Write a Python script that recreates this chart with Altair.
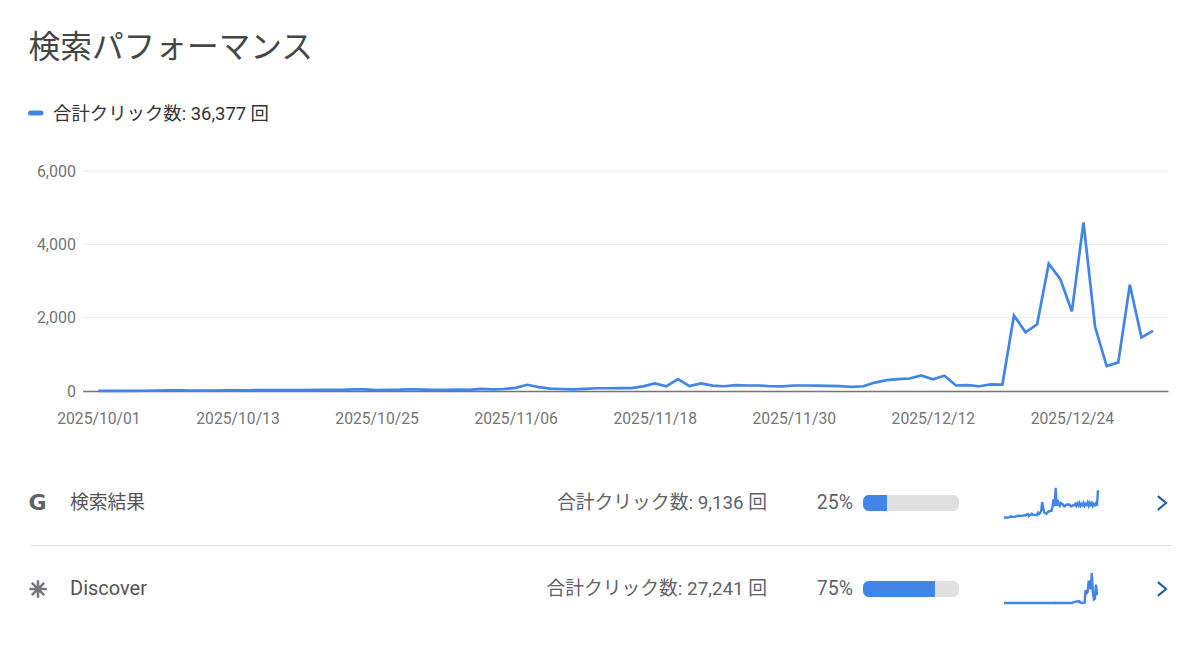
import altair as alt
import pandas as pd

FONT = "Roboto, 'Noto Sans CJK JP', sans-serif"
BLUE = "#4285e8"

title_text = "検索パフォーマンス"
legend_text = "合計クリック数: 36,377 回"
grid_values = [0, 2000, 4000, 6000]
tick_dates = ["2025-10-01T00:00:00", "2025-10-13T00:00:00", "2025-10-25T00:00:00", "2025-11-06T00:00:00",
              "2025-11-18T00:00:00", "2025-11-30T00:00:00", "2025-12-12T00:00:00", "2025-12-24T00:00:00"]

total = [5, 4, 5, 6, 7, 10, 18, 16, 14, 12,
         12, 16, 18, 20, 25, 26, 24, 22, 26, 30,
         30, 28, 42, 44, 22, 34, 36, 48, 38, 32,
         34, 36, 32, 60, 45, 55, 85, 170, 105, 65,
         55, 45, 60, 75, 75, 80, 80, 125, 205, 125,
         325, 135, 205, 145, 130, 160, 150, 150, 130, 125,
         150, 150, 145, 140, 135, 115, 130, 230, 295, 325,
         340, 425, 320, 415, 150, 160, 130, 180, 175, 2060,
         1600, 1820, 3470, 3050, 2170, 4600, 1750, 680, 780, 2900,
         1460, 1640]

search = [5, 4, 5, 6, 7, 10, 16, 14, 13, 12,
          12, 15, 17, 19, 24, 25, 23, 21, 25, 28,
          29, 27, 40, 42, 22, 33, 34, 46, 36, 31,
          33, 35, 31, 56, 43, 52, 80, 170, 100, 60,
          52, 45, 56, 70, 72, 76, 76, 125, 200, 125,
          320, 130, 190, 145, 130, 160, 150, 145, 125, 125,
          140, 145, 140, 145, 135, 125, 130, 135, 135, 150,
          130, 155, 135, 160, 130, 150, 135, 160, 130, 150,
          140, 165, 130, 160, 140, 160, 130, 150, 135, 155,
          130, 295]

discover = [0, 0, 0, 0, 0, 0, 2, 2, 1, 0,
            0, 1, 1, 1, 1, 1, 1, 1, 1, 2,
            1, 1, 2, 2, 0, 1, 2, 2, 2, 1,
            1, 1, 1, 4, 2, 3, 10, 10, 10, 5,
            3, 0, 4, 5, 3, 4, 4, 10, 15, 5,
            30, 10, 20, 5, 5, 10, 10, 5, 10, 5,
            10, 10, 10, 5, 10, 5, 5, 85, 165, 170,
            220, 270, 200, 255, 45, 15, 10, 20, 60, 1900,
            1460, 1640, 3300, 2880, 2030, 4435, 1630, 525, 650, 2740,
            1335, 1345]

rows = ["検索結果", "Discover"]
row_clicks = ["合計クリック数: 9,136 回", "合計クリック数: 27,241 回"]
row_share = [25, 75]
row_pct = ["25%", "75%"]
row_icon = ["G", ""]

dates = pd.date_range("2025-10-01", periods=len(total), freq="D").strftime("%Y-%m-%dT%H:%M:%S")
df = pd.DataFrame({"date": dates, "total": total, "search": search, "discover": discover})
rows_df = pd.DataFrame({"row": rows, "clicks": row_clicks, "share": row_share, "pct": row_pct,
                        "full": [100, 100], "zero": [0, 0], "icon": row_icon})

X_DOMAIN = ["2025-09-29T15:00:00", "2026-01-01T07:00:00"]
X_RANGE = [74.5, 1160]
Y_RANGE = [383, 163]
ROW_Y = alt.Scale(domain=rows, range=[452, 624], paddingInner=0, paddingOuter=0)
row_y = alt.Y("row:N", scale=ROW_Y, axis=None)

grid = alt.Chart(pd.DataFrame({"v": grid_values[1:], "a": X_DOMAIN[0], "b": X_DOMAIN[1]})).mark_rule(
    color="#ececec", strokeWidth=1
).encode(
    x=alt.X("a:T", scale=alt.Scale(domain=X_DOMAIN, range=X_RANGE), axis=None),
    x2="b:T",
    y=alt.Y("v:Q", scale=alt.Scale(domain=[0, 6000], range=Y_RANGE), axis=None),
)

main = alt.Chart(df).mark_line(color=BLUE, strokeWidth=2.7).encode(
    x=alt.X("date:T", scale=alt.Scale(domain=X_DOMAIN, range=X_RANGE),
            axis=alt.Axis(values=tick_dates, format="%Y/%m/%d", title=None, grid=False, ticks=False,
                          offset=-251, labelPadding=20, labelFontSize=15.7, labelFont=FONT,
                          labelColor="#757575", labelOverlap=False, labelFlush=False,
                          domainColor="#757575", domainWidth=1.5)),
    y=alt.Y("total:Q", scale=alt.Scale(domain=[0, 6000], range=Y_RANGE),
            axis=alt.Axis(values=grid_values, format=",d", title=None, grid=False, ticks=False, domain=False,
                          offset=-67.5, labelPadding=0, labelFontSize=16, labelFont=FONT,
                          labelColor="#757575")),
)

bar_bg = alt.Chart(rows_df).mark_bar(color="#e0e0e0", size=16, cornerRadius=6).encode(
    x=alt.X("zero:Q", scale=alt.Scale(domain=[0, 100], range=[855, 951]), axis=None),
    x2="full:Q",
    y=row_y,
)
bar_fg = alt.Chart(rows_df).mark_bar(color=BLUE, size=16, cornerRadiusTopLeft=6, cornerRadiusBottomLeft=6).encode(
    x=alt.X("zero:Q", scale=alt.Scale(domain=[0, 100], range=[855, 951]), axis=None),
    x2="share:Q",
    y=row_y,
)

spark_x = alt.Scale(domain=["2025-10-01T00:00:00", "2025-12-31T00:00:00"], range=[996, 1090])
spark1 = alt.Chart(df).mark_line(color=BLUE, strokeWidth=2.4).encode(
    x=alt.X("date:T", scale=spark_x, axis=None),
    y=alt.Y("search:Q", scale=alt.Scale(domain=[0, 330], range=[510, 479]), axis=None),
)
spark2 = alt.Chart(df).mark_line(color=BLUE, strokeWidth=2.4).encode(
    x=alt.X("date:T", scale=spark_x, axis=None),
    y=alt.Y("discover:Q", scale=alt.Scale(domain=[0, 4450], range=[595, 565]), axis=None),
)


def label(text, x, y, size, color, align="left"):
    return alt.Chart(pd.DataFrame({"t": [text]})).mark_text(
        font=FONT, fontSize=size, color=color, align=align, baseline="middle"
    ).encode(x=alt.value(x), y=alt.value(y), text="t:N")


def row_text(field, x, size, color, align="left", font=FONT, weight="normal", dy=0.3, only=None):
    base = alt.Chart(rows_df)
    if only is not None:
        base = base.transform_filter(alt.datum.row == only)
    return base.mark_text(
        font=font, fontSize=size, color=color, align=align, baseline="middle", fontWeight=weight, dy=dy
    ).encode(x=alt.value(x), y=row_y, text=f"{field}:N")


title = label(title_text, 20.5, 39.5, 31.7, "#444746")
legend_dash = alt.Chart(pd.DataFrame({"a": [0]})).mark_rule(
    color=BLUE, strokeWidth=5, strokeCap="round"
).encode(x=alt.value(22.5), x2=alt.value(33), y=alt.value(105))
legend_label = label(legend_text, 45, 106, 18.4, "#333333")

sep = alt.Chart(pd.DataFrame({"a": [0]})).mark_rule(color="#e0e0e0", strokeWidth=1).encode(
    x=alt.value(22), x2=alt.value(1163), y=alt.value(537.5))

row_name_a = row_text("row", 62, 18.8, "#555555", only=rows[0])
row_name_b = row_text("row", 62, 20, "#555555", only=rows[1])
row_clicks_t = row_text("clicks", 759, 18.8, "#5f6368", align="right")
row_pcts = row_text("pct", 845, 19.5, "#5f6368", align="right")
row_g = row_text("icon", 20.5, 22, "#5f6368", font="DejaVu Sans", weight="bold")

STAR = "M0,-1L0,1M-1,0L1,0M-0.71,-0.71L0.71,0.71M-0.71,0.71L0.71,-0.71"
star = alt.Chart(pd.DataFrame({"a": [0]})).mark_point(
    shape=STAR, size=300, stroke="#75787c", strokeWidth=2.6, opacity=1, filled=False
).encode(x=alt.value(30), y=alt.value(581))

CHEV = "M-0.6,-1L0.6,0L-0.6,1"
chev = alt.Chart(rows_df).mark_point(
    shape=CHEV, size=190, stroke="#1f5aa8", strokeWidth=2, opacity=1, filled=False
).encode(x=alt.value(1154), y=row_y)

chart = alt.layer(
    grid, main, title, legend_dash, legend_label, sep,
    bar_bg, bar_fg, spark1, spark2,
    row_name_a, row_name_b, row_clicks_t, row_pcts, row_g, star, chev,
).resolve_scale(x="independent", y="independent").resolve_axis(x="independent", y="independent").properties(
    width=1184, height=634, padding=0, background="#ffffff",
    autosize=alt.AutoSizeParams(type="none"),
).configure_view(stroke=None)

chart.save("out.html", embed_options={"renderer": "svg", "actions": False})
